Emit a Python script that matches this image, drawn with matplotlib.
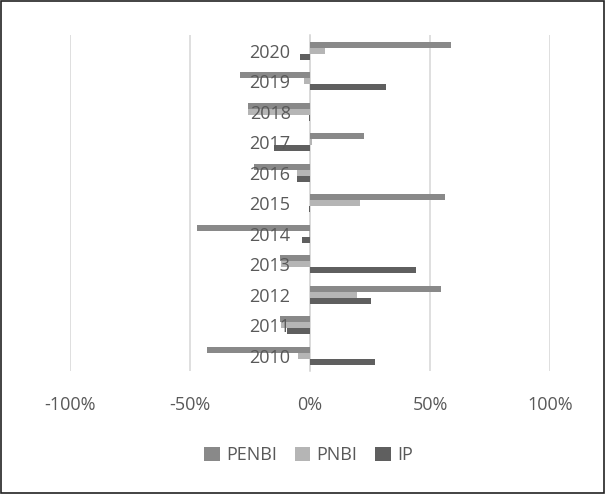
import matplotlib
matplotlib.use("Agg")
import matplotlib.pyplot as plt
import numpy as np
from matplotlib.patches import Rectangle
from matplotlib.ticker import FuncFormatter

years = ["2010", "2011", "2012", "2013", "2014", "2015", "2016", "2017", "2018", "2019", "2020"]
penbi = [-42.8, -12.5, 54.4, -12.5, -47.2, 56.3, -23.3, 22.6, -26.0, -29.0, 58.6]
pnbi = [-4.9, -12.0, 19.4, -12.0, -0.3, 20.8, -5.5, 1.0, -25.7, -2.5, 6.2]
ip = [27.0, -9.7, 25.4, 44.0, -3.5, -0.5, -5.5, -15.0, -0.5, 31.5, -4.2]
series_names = ["PENBI", "PNBI", "IP"]
colors = ["#898989", "#b5b5b5", "#5f5f5f"]
xticks = [-100, -50, 0, 50, 100]

plt.rcParams['font.family'] = ['Open Sans', 'DejaVu Sans']
fig = plt.figure(figsize=(6.05, 4.94), dpi=100)
ax = fig.add_axes([70/605, 123/494, 480/605, 335.5/494])

y = np.arange(len(years))
h = 0.2
offs = [h, 0, -h]
for vals, name, c, o in zip([penbi, pnbi, ip], series_names, colors, offs):
    ax.barh(y + o, vals, height=h, color=c, label=name, zorder=1)

ax.set_xlim(-100, 100)
ax.set_ylim(-0.5, len(years) - 0.5)
ax.set_xticks(xticks)
ax.xaxis.set_major_formatter(FuncFormatter(lambda v, p: f"{int(v)}%"))
ax.grid(axis='x', color='#d9d9d9', linewidth=1.2)
ax.set_axisbelow(True)
ax.yaxis.set_zorder(5)
for s in ['top', 'right', 'bottom']:
    ax.spines[s].set_visible(False)
ax.spines['left'].set_position(('data', 0))
ax.spines['left'].set_color('#d9d9d9')
ax.spines['left'].set_linewidth(1.2)
ax.spines['left'].set_zorder(0.8)
ax.set_yticks(y)
ax.set_yticklabels(years)
ax.tick_params(axis='y', length=0, pad=14, labelsize=13, labelcolor='#595959')
ax.tick_params(axis='x', length=0, pad=18, labelsize=13, labelcolor='#595959')

leg = fig.legend(loc='center', bbox_to_anchor=(0.51, 0.079), ncol=3, frameon=False,
                 fontsize=13, handlelength=0.85, handleheight=0.85, handletextpad=0.35,
                 columnspacing=1.0)
for t in leg.get_texts():
    t.set_color('#595959')

fig.patches.append(Rectangle((0.002, 0.002), 0.996, 0.996, transform=fig.transFigure,
                             fill=False, edgecolor='#222222', linewidth=1.2))

fig.savefig("out.png", dpi=100)
